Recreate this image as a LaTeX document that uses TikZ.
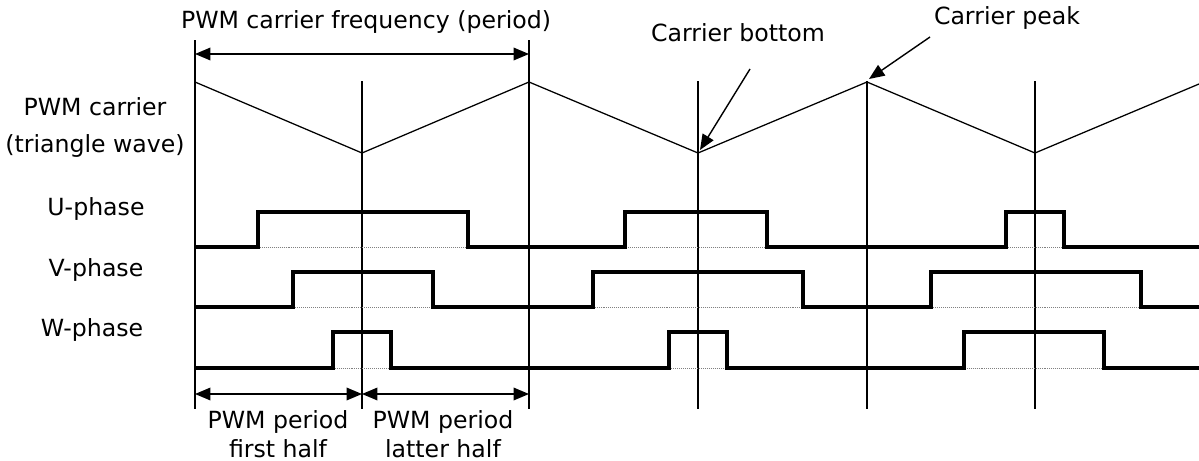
\documentclass[tikz,border=0pt]{standalone}
\usepackage{fontspec}
\setmainfont{DejaVu Sans}
\usepackage{tikz}
\usetikzlibrary{arrows.meta, positioning, calc}

\tikzset{
  lbl/.style={font=\fontsize{16.8}{20.5}\selectfont, inner sep=0pt, align=center},
  gridline/.style={line width=0.8pt},
  carrier/.style={line width=0.9pt, line join=miter},
  sig/.style={line width=3pt, line join=miter},
  base/.style={gray, densely dotted, line width=0.4pt},
  dim/.style={line width=1pt, {Triangle[length=11pt,width=9pt]}-{Triangle[length=11pt,width=9pt]}},
  pointer/.style={line width=1pt, -{Triangle[length=11pt,width=9pt]}}
}

\begin{document}
\begin{tikzpicture}[x=0.025cm, y=-0.025cm]
  \useasboundingbox (0,0) rectangle (1199,461);

  % Timing marks (peaks and bottoms of the carrier)
  \coordinate (p0) at (195,82);
  \coordinate (b0) at (362,153);
  \coordinate (p1) at (529,82);
  \coordinate (b1) at (698,153);
  \coordinate (p2) at (867,82);
  \coordinate (b2) at (1035,153);
  \coordinate (pe) at (1199,84);

  \draw[gridline] (195,40) -- (195,409);
  \draw[gridline] (529,40) -- (529,409);
  \foreach \x in {362, 698, 867, 1035}
    \draw[gridline] (\x,81) -- (\x,409);

  % Triangle carrier
  \draw[carrier] (p0) -- (b0) -- (p1) -- (b1) -- (p2) -- (b2) -- (pe);

  % Left labels
  \node[lbl] (carr1) at (95,107) {PWM carrier};
  \node[lbl] (carr2) at (95,146) {(triangle wave)};
  \node[lbl] (uph) at (96,209) {U-phase};
  \node[lbl] (vph) at (96,270) {V-phase};
  \node[lbl] (wph) at (92,330) {W-phase};

  % Dotted low levels
  \foreach \y in {247, 307, 368}
    \draw[base] (195,\y) -- (1199,\y);

  % Phase outputs
  \draw[sig] (195,247) -| (258,212) -| (468,247) -| (625,212) -| (767,247)
    -| (1006,212) -| (1064,247) -- (1199,247);
  \draw[sig] (195,307) -| (293,272) -| (433,307) -| (593,272) -| (803,307)
    -| (931,272) -| (1141,307) -- (1199,307);
  \draw[sig] (195,368) -| (333,332) -| (391,368) -| (669,332) -| (727,368)
    -| (964,332) -| (1104,368) -- (1199,368);

  % Carrier period
  \node[lbl] (freq) at (366,22) {PWM carrier frequency (period)};
  \coordinate (ftl) at (195,54);
  \coordinate (ftr) at (529,54);
  \draw[dim] (ftl) -- (ftr);

  % Half periods
  \coordinate (hl) at (195,394);
  \coordinate (hm) at (362,394);
  \coordinate (hr) at (529,394);
  \draw[dim] (hl) -- (hm);
  \draw[dim] (hm) -- (hr);
  \node[lbl] (first) at (278,434) {PWM period\\first half};
  \node[lbl] (latter) at (443,434) {PWM period\\latter half};

  % Callouts
  \node[lbl] (bot) at (738,33) {Carrier bottom};
  \node[lbl] (peak) at (1007,18) {Carrier peak};
  \coordinate (bots) at (750,69);
  \coordinate (peaks) at (930,37);
  \draw[pointer] (bots) -- ($(b1)+(2,-3)$);
  \draw[pointer] (peaks) -- ($(p2)+(2,-3)$);
\end{tikzpicture}
\end{document}
